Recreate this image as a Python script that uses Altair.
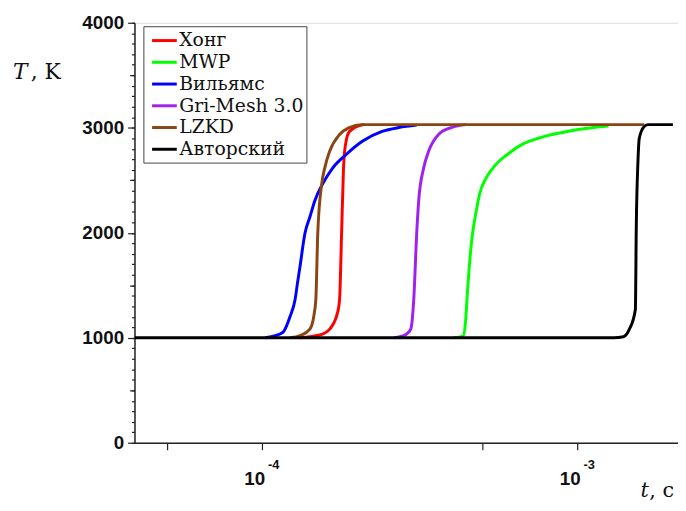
import altair as alt
import pandas as pd

series_names = ["Хонг", "MWP", "Вильямс", "Gri-Mesh 3.0", "LZKD", "Авторский"]
series_colors = ["#ff0000", "#00ff00", "#0000ff", "#a020f0", "#8b4513", "#000000"]

hong_t = [1.318e-4, 1.523e-4, 1.637e-4, 1.735e-4, 1.760e-4, 1.786e-4, 1.811e-4, 1.838e-4, 1.891e-4, 2.033e-4, 2.108e-4]
hong_T = [1000, 1026, 1082, 1242, 1365, 1995, 2616, 2842, 2965, 3020, 3030]

mwp_t = [4.036e-4, 4.338e-4, 4.411e-4, 4.474e-4, 4.553e-4, 4.629e-4, 4.775e-4, 4.893e-4, 5.132e-4, 5.517e-4,
         6.003e-4, 6.608e-4, 7.0e-4, 7.5e-4, 8.013e-4, 9.259e-4, 1.093e-3, 1.253e-3]
mwp_T = [1000, 1016, 1148, 1431, 1741, 1958, 2212, 2372, 2522, 2654,
         2748, 2835, 2870, 2900, 2925, 2965, 2998, 3016]

will_t = [1.024e-4, 1.101e-4, 1.166e-4, 1.227e-4, 1.272e-4, 1.295e-4, 1.318e-4, 1.367e-4, 1.417e-4, 1.469e-4,
          1.556e-4, 1.673e-4, 1.851e-4, 2.078e-4, 2.401e-4, 2.713e-4, 3.090e-4]
will_T = [1000, 1020, 1054, 1205, 1365, 1525, 1675, 1995, 2150, 2306,
          2466, 2616, 2748, 2871, 2965, 3002, 3025]

gri_t = [2.617e-4, 2.854e-4, 2.959e-4, 3.024e-4, 3.090e-4, 3.135e-4, 3.250e-4, 3.370e-4, 3.623e-4, 3.978e-4, 4.433e-4]
gri_T = [1000, 1030, 1082, 1365, 1995, 2306, 2616, 2776, 2936, 3002, 3030]

lzkd_t = [1.227e-4, 1.318e-4, 1.417e-4, 1.458e-4, 1.480e-4, 1.501e-4, 1.545e-4, 1.579e-4, 1.637e-4, 1.760e-4,
          1.891e-4, 2.063e-4, 1.626e-3]
lzkd_T = [1000, 1020, 1082, 1205, 1365, 1995, 2466, 2616, 2776, 2936,
          3002, 3030, 3030]

auth_t = [3.94e-5, 1.300e-3, 1.397e-3, 1.459e-3, 1.524e-3, 1.534e-3, 1.553e-3, 1.568e-3, 1.626e-3, 1.673e-3, 2.004e-3]
auth_T = [1000, 1000, 1010, 1082, 1270, 2052, 2682, 2899, 3012, 3030, 3030]

x_tick_values = [5e-5, 1e-4, 5e-4, 1e-3]
x_label_values = [1e-4, 1e-3]
x_label_base = ["10", "10"]
x_label_exp = ["-4", "-3"]
y_major = [0, 1000, 2000, 3000, 4000]
y_mid = [500, 1500, 2500, 3500]
y_minor = [i * 100 for i in range(41)]

X_DOMAIN = [3.94e-5, 2.08e-3]
Y_DOMAIN = [0, 4000]
W, H = 550, 425
SERIF = "DejaVu Serif"

all_t = [hong_t, mwp_t, will_t, gri_t, lzkd_t, auth_t]
all_T = [hong_T, mwp_T, will_T, gri_T, lzkd_T, auth_T]
rows = []
for name, ts, Ts in zip(series_names, all_t, all_T):
    for i, (t, T) in enumerate(zip(ts, Ts)):
        rows.append({"series": name, "t": t, "T": T, "i": i})
df = pd.DataFrame(rows)

xscale = alt.Scale(type="log", domain=X_DOMAIN, nice=False)
x_axis = alt.Axis(values=x_tick_values, labels=False, title=None, grid=False,
                  tickSize=7, tickColor="#222", tickWidth=1.2,
                  domainColor="#222", domainWidth=1.5, orient="bottom")

lines = alt.Chart(df).mark_line(strokeWidth=3, clip=True, interpolate="monotone").encode(
    x=alt.X("t:Q", scale=xscale, axis=x_axis),
    y=alt.Y("T:Q", scale=alt.Scale(domain=Y_DOMAIN, nice=False, zero=False),
            axis=alt.Axis(values=y_major, format="d", title=None, grid=False, tickSize=7, orient="left",
                          tickColor="#222", tickWidth=1.2, domainColor="#222", domainWidth=1.5,
                          labelFont="Liberation Sans", labelFontWeight="bold", labelFontSize=19,
                          labelColor="#111", labelPadding=4)),
    color=alt.Color("series:N", sort=series_names,
                    scale=alt.Scale(domain=series_names, range=series_colors),
                    legend=alt.Legend(orient="none", legendX=9, legendY=3.5, title=None,
                                      symbolType="M-1.25,0H1.25", symbolStrokeWidth=3, symbolSize=400,
                                      symbolOffset=6.8,
                                      labelFont=SERIF, labelFontSize=19, labelColor="#111",
                                      labelOffset=3.5, rowPadding=-1.5, padding=3,
                                      strokeColor="#444", fillColor="white")),
    order="i:Q",
)

minor_df = pd.DataFrame({"v": y_minor})
mid_df = pd.DataFrame({"v": y_mid})

minor_axis = alt.Chart(minor_df).mark_point(opacity=0).encode(
    y=alt.Y("v:Q", scale=alt.Scale(domain=Y_DOMAIN, nice=False, zero=False),
            axis=alt.Axis(values=y_minor, labels=False, title=None, grid=False, domain=False,
                          tickSize=3, tickColor="#222", tickWidth=1.2, orient="left")),
)
mid_axis = alt.Chart(mid_df).mark_point(opacity=0).encode(
    y=alt.Y("v:Q", scale=alt.Scale(domain=Y_DOMAIN, nice=False, zero=False),
            axis=alt.Axis(values=y_mid, labels=False, title=None, grid=False, domain=False,
                          tickSize=5, tickColor="#222", tickWidth=1.2, orient="left")),
)

lab_df = pd.DataFrame({"t": x_label_values, "base": x_label_base, "exp": x_label_exp})
base_text = alt.Chart(lab_df).mark_text(
    align="right", baseline="top", dx=3, font="Liberation Sans", fontWeight="bold",
    fontSize=19, color="#111"
).encode(x=alt.X("t:Q", scale=xscale, axis=x_axis), y=alt.value(H + 28), text="base:N")
exp_text = alt.Chart(lab_df).mark_text(
    align="left", baseline="top", dx=6, font="Liberation Sans", fontWeight="bold",
    fontSize=13, color="#111"
).encode(x=alt.X("t:Q", scale=xscale, axis=x_axis), y=alt.value(H + 17), text="exp:N")

one = pd.DataFrame({"a": [0]})
y_title_T = alt.Chart(one).mark_text(
    align="left", baseline="alphabetic", font=SERIF, fontStyle="italic", fontSize=22, color="#111"
).encode(x=alt.value(-123), y=alt.value(57), text=alt.value("T"))
y_title_K = alt.Chart(one).mark_text(
    align="left", baseline="alphabetic", font=SERIF, fontSize=22, color="#111"
).encode(x=alt.value(-105), y=alt.value(57), text=alt.value(", K"))
x_title_t = alt.Chart(one).mark_text(
    align="left", baseline="alphabetic", font=SERIF, fontStyle="italic", fontSize=21, color="#111"
).encode(x=alt.value(512), y=alt.value(480), text=alt.value("t"))
x_title_c = alt.Chart(one).mark_text(
    align="left", baseline="alphabetic", font=SERIF, fontSize=21, color="#111"
).encode(x=alt.value(521), y=alt.value(480), text=alt.value(", c"))

chart = alt.layer(
    minor_axis, mid_axis, lines, base_text, exp_text, y_title_T, y_title_K, x_title_t, x_title_c
).resolve_scale(y="independent").properties(
    width=W, height=H,
    autosize=alt.AutoSizeParams(type="none"),
    padding={"left": 128, "top": 12, "right": 0, "bottom": 58},
).configure_view(stroke=None).configure_legend(
    labelFont=SERIF
).configure(background="white")

chart.save("out.html", embed_options={"renderer": "svg", "actions": False})
